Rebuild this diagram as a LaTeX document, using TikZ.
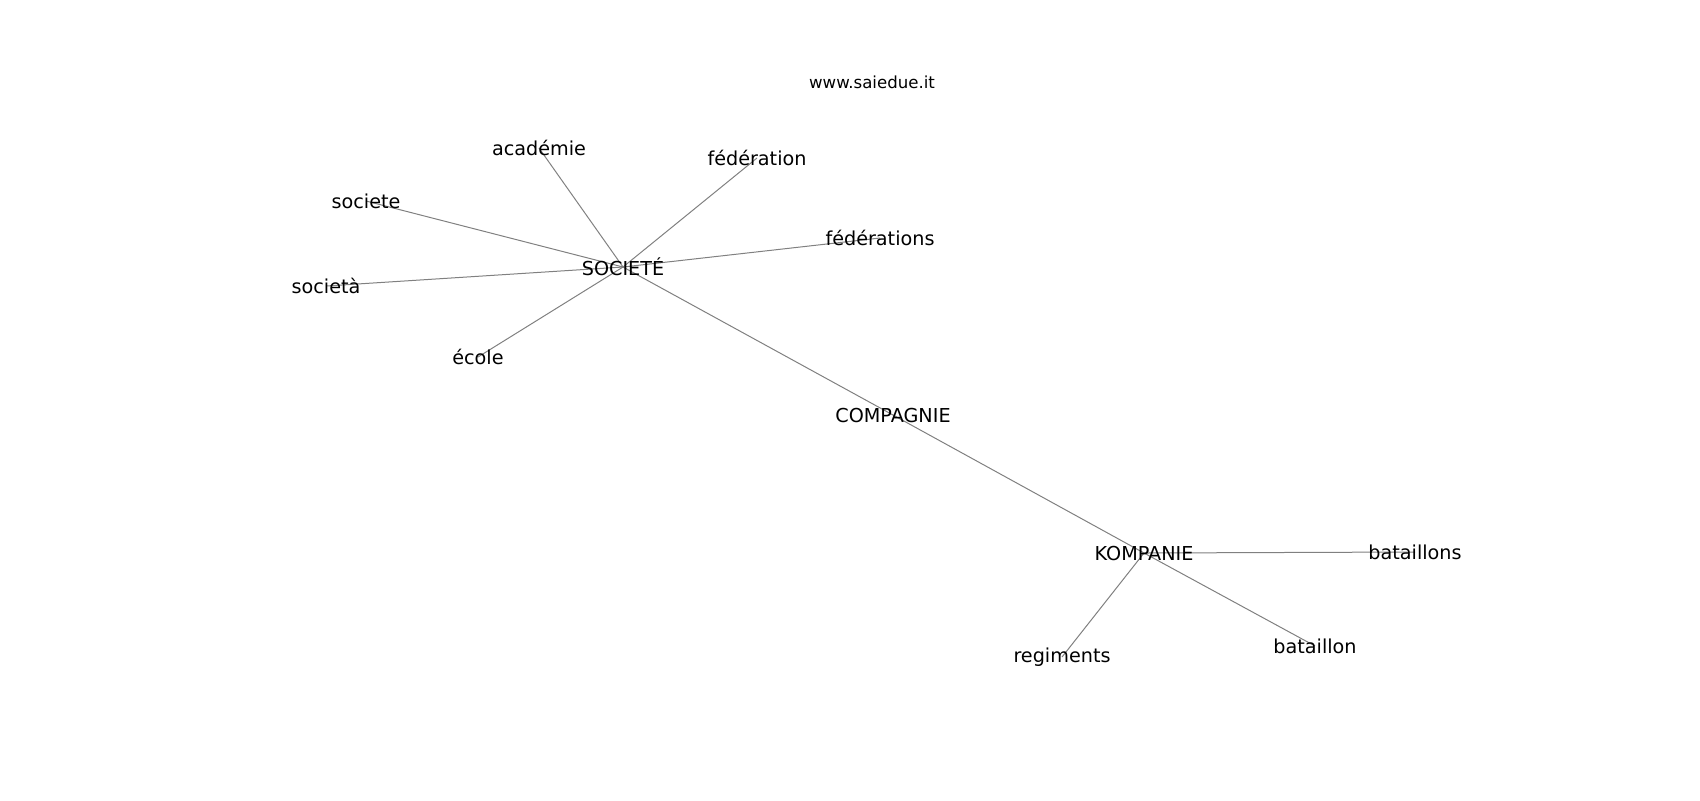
\documentclass[tikz,border=0pt]{standalone}
\usepackage{fontspec}
\setmainfont{DejaVu Sans}
\usetikzlibrary{backgrounds}

\begin{document}
\begin{tikzpicture}[x=0.5pt,y=-0.5pt]
\tikzstyle{every node}+=[inner sep=0pt,font=\fontsize{9.6}{11}\selectfont]
\tikzstyle{edge}=[draw=gray,line width=0.5pt]
\useasboundingbox (0,0) rectangle (1700,800);
\node (url) at (872,82) {\fontsize{8.3}{10}\selectfont www.saiedue.it};
\node (societe2) at (623,267) {SOCIETÉ};
\node (academie) at (539,148) {académie};
\node (federation) at (757,158) {fédération};
\node (societe) at (366,201) {societe};
\node (federations) at (880,238) {fédérations};
\node (societa) at (326,286) {società};
\node (ecole) at (478,357) {école};
\node (compagnie) at (893,415) {COMPAGNIE};
\node (kompanie) at (1144,553) {KOMPANIE};
\node (bataillons) at (1415,552) {bataillons};
\node (regiments) at (1062,657) {regiments};
\node (bataillon) at (1315,646) {bataillon};
\begin{pgfonlayer}{background}
\draw [edge] (societe2.center) -- (academie.center);
\draw [edge] (societe2.center) -- (federation.center);
\draw [edge] (societe2.center) -- (societe.center);
\draw [edge] (societe2.center) -- (federations.center);
\draw [edge] (societe2.center) -- (societa.center);
\draw [edge] (societe2.center) -- (ecole.center);
\draw [edge] (societe2.center) -- (compagnie.center);
\draw [edge] (compagnie.center) -- (kompanie.center);
\draw [edge] (kompanie.center) -- (bataillons.center);
\draw [edge] (kompanie.center) -- (regiments.center);
\draw [edge] (kompanie.center) -- (bataillon.center);
\end{pgfonlayer}
\end{tikzpicture}
\end{document}
